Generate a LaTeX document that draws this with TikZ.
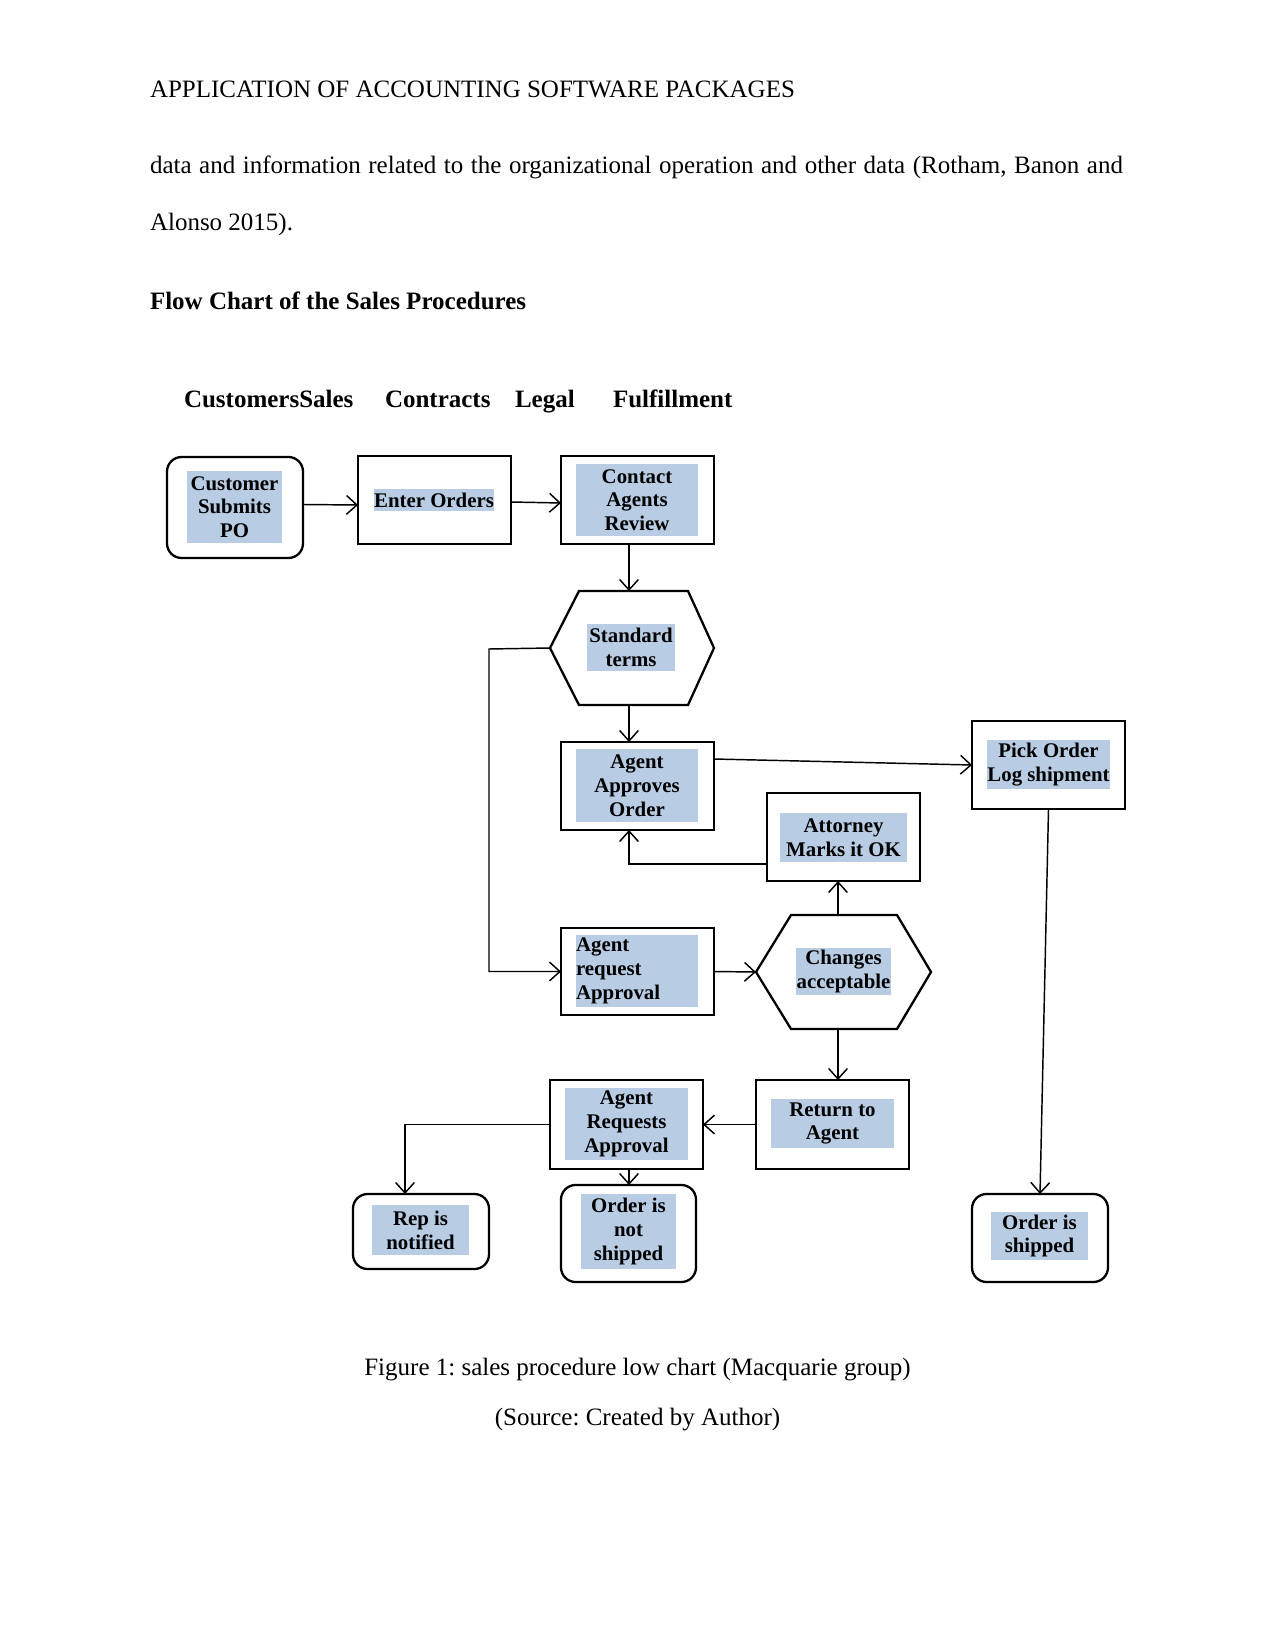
\documentclass[tikz,border=0pt]{standalone}
\usepackage{fontspec}
\setmainfont{Liberation Serif}
\usetikzlibrary{arrows.meta,fit,calc}
\definecolor{hlblue}{RGB}{184,204,228}
\newcommand\fcfont{\bfseries\fontsize{10}{11.4}\selectfont}
\frenchspacing
\begin{document}
\begin{tikzpicture}[x=0.48pt,y=-0.48pt,
  every node/.style={inner sep=0pt, outer sep=0pt},
  box/.style={draw, line width=1.1pt},
  rbox/.style={draw, line width=1.1pt, rounded corners=7pt},
  hexline/.style={line width=1.1pt, line join=miter},
  hl/.style={fill=hlblue, font=\fcfont, align=center},
  hlsize/.style n args={2}{minimum width={#1*0.48pt}, minimum height={#2*0.48pt}},
  arr/.style={line width=0.7pt, -{Straight Barb[length=5pt,width=9pt]}},
  body/.style={font=\fontsize{12}{14}\selectfont, anchor=base west},
  head/.style={font=\bfseries\fontsize{12}{14}\selectfont, anchor=base west}]
\useasboundingbox[fill=white] (0,0) rectangle (1275,1650);

% page text
\node[body] (hdr) at (150,98) {APPLICATION OF ACCOUNTING SOFTWARE PACKAGES};
\node[body] (l1) at (150,174) {\makebox[467pt][s]{data and information related to the organizational operation and other data (Rotham, Banon and}};
\node[body] (l2) at (150,231) {Alonso 2015).};
\node[head] (ttl) at (150,310) {Flow Chart of the Sales Procedures};
\node[head] (lane1) at (184,408) {CustomersSales};
\node[head] (lane2) at (385,408) {Contracts};
\node[head] (lane3) at (515,408) {Legal};
\node[head] (lane4) at (613,408) {Fulfillment};

% boxes
\node[rbox, fit={(167,457)(303,558)}] (cust) {};
\node[hl, hlsize={95}{72}] (cust-t) at (234.5,507) {Customer\\Submits\\PO};

\node[box, fit={(358,456)(511,544)}] (enter) {};
\node[hl, hlsize={120}{22}] (enter-t) at (434,500) {Enter Orders};

\node[box, fit={(561,456)(714,544)}] (contact) {};
\node[hl, hlsize={122}{72}] (contact-t) at (637,500) {Contact\\Agents\\Review};

\node[fit={(550,591)(714,705)}] (std) {};
\draw[hexline] ($(std.north west)+(29,0)$) -- ($(std.north east)+(-26,0)$) -- (std.east)
  -- ($(std.south east)+(-26,0)$) -- ($(std.south west)+(29,0)$) -- (std.west) -- cycle;
\node[hl, hlsize={88}{47}] (std-t) at (631,647.5) {Standard\\terms};

\node[box, fit={(561,742)(714,830)}] (appr) {};
\node[hl, hlsize={122}{73}] (appr-t) at (637,785.5) {Agent\\Approves\\Order};

\node[box, line width=1.35pt, fit={(972,721)(1125,809)}] (pick) {};
\node[hl, hlsize={123}{49}] (pick-t) at (1048.5,764.5) {Pick Order\\Log shipment};

\node[box, fit={(767,793)(920,881)}] (atty) {};
\node[hl, hlsize={127}{49}] (atty-t) at (843.5,837.5) {Attorney\\Marks it OK};

\node[box, fit={(561,928)(714,1015)}] (req) {};
\node[hl, align=left, text width=58.5pt, hlsize={122}{72}] (req-t) at (637,971) {Agent\\request\\Approval};

\node[fit={(756,915)(931,1029)}] (chg) {};
\draw[hexline] ($(chg.north west)+(35,0)$) -- ($(chg.north east)+(-34,0)$) -- (chg.east)
  -- ($(chg.south east)+(-34,0)$) -- ($(chg.south west)+(35,0)$) -- (chg.west) -- cycle;
\node[hl, hlsize={95}{47}] (chg-t) at (843.5,971.5) {Changes\\acceptable};

\node[box, fit={(756,1080)(909,1169)}] (ret) {};
\node[hl, hlsize={123}{49}] (ret-t) at (832.5,1123.5) {Return to\\Agent};

\node[box, fit={(550,1080)(703,1169)}] (reqs) {};
\node[hl, hlsize={123}{72}] (reqs-t) at (626.5,1124) {Agent\\Requests\\Approval};

\node[rbox, fit={(353,1194)(489,1269)}] (rep) {};
\node[hl, hlsize={97}{50}] (rep-t) at (420.5,1230) {Rep is\\notified};

\node[rbox, fit={(561,1185)(696,1282)}] (nots) {};
\node[hl, hlsize={95}{75}] (nots-t) at (628.5,1231.5) {Order is\\not\\shipped};

\node[rbox, fit={(972,1194)(1108,1282)}] (ship) {};
\node[hl, hlsize={97}{48}] (ship-t) at (1039.5,1236) {Order is\\shipped};

% connectors
\draw[arr] ($(cust.east)+(0,-3)$) -- ($(enter.west)+(0,5)$);
\draw[arr] ($(enter.east)+(0,2)$) -- ($(contact.west)+(0,3)$);
\draw[arr] (contact.south -| 629,0) -- (std.north -| 629,0);
\draw[arr] (std.west) -- (489,649) |- (req.west);
\draw[arr] (std.south -| 629,0) -- (appr.north -| 629,0);
\draw[arr] ($(appr.east)+(0,-27)$) -- (pick.west);
\draw[arr] ($(atty.south west)+(0,-17)$) -| (appr.south -| 629,0);
\draw[arr] (req.east) -- (chg.west);
\draw[arr] (chg.north -| 838,0) -- (atty.south -| 838,0);
\draw[arr] (chg.south -| 838,0) -- (ret.north -| 838,0);
\draw[arr] (ret.west) -- (reqs.east);
\draw[arr] (reqs.west) -| (rep.north -| 405,0);
\draw[arr] (reqs.south -| 629,0) -- (nots.north -| 629,0);
\draw[arr] (pick.south) -- (ship.north);

% caption
\node[font=\fontsize{12}{14}\selectfont, anchor=base] (cap1) at (637.5,1375) {Figure 1: sales procedure low chart (Macquarie group)};
\node[font=\fontsize{12}{14}\selectfont, anchor=base] (cap2) at (637.5,1425) {(Source: Created by Author)};
\end{tikzpicture}
\end{document}
